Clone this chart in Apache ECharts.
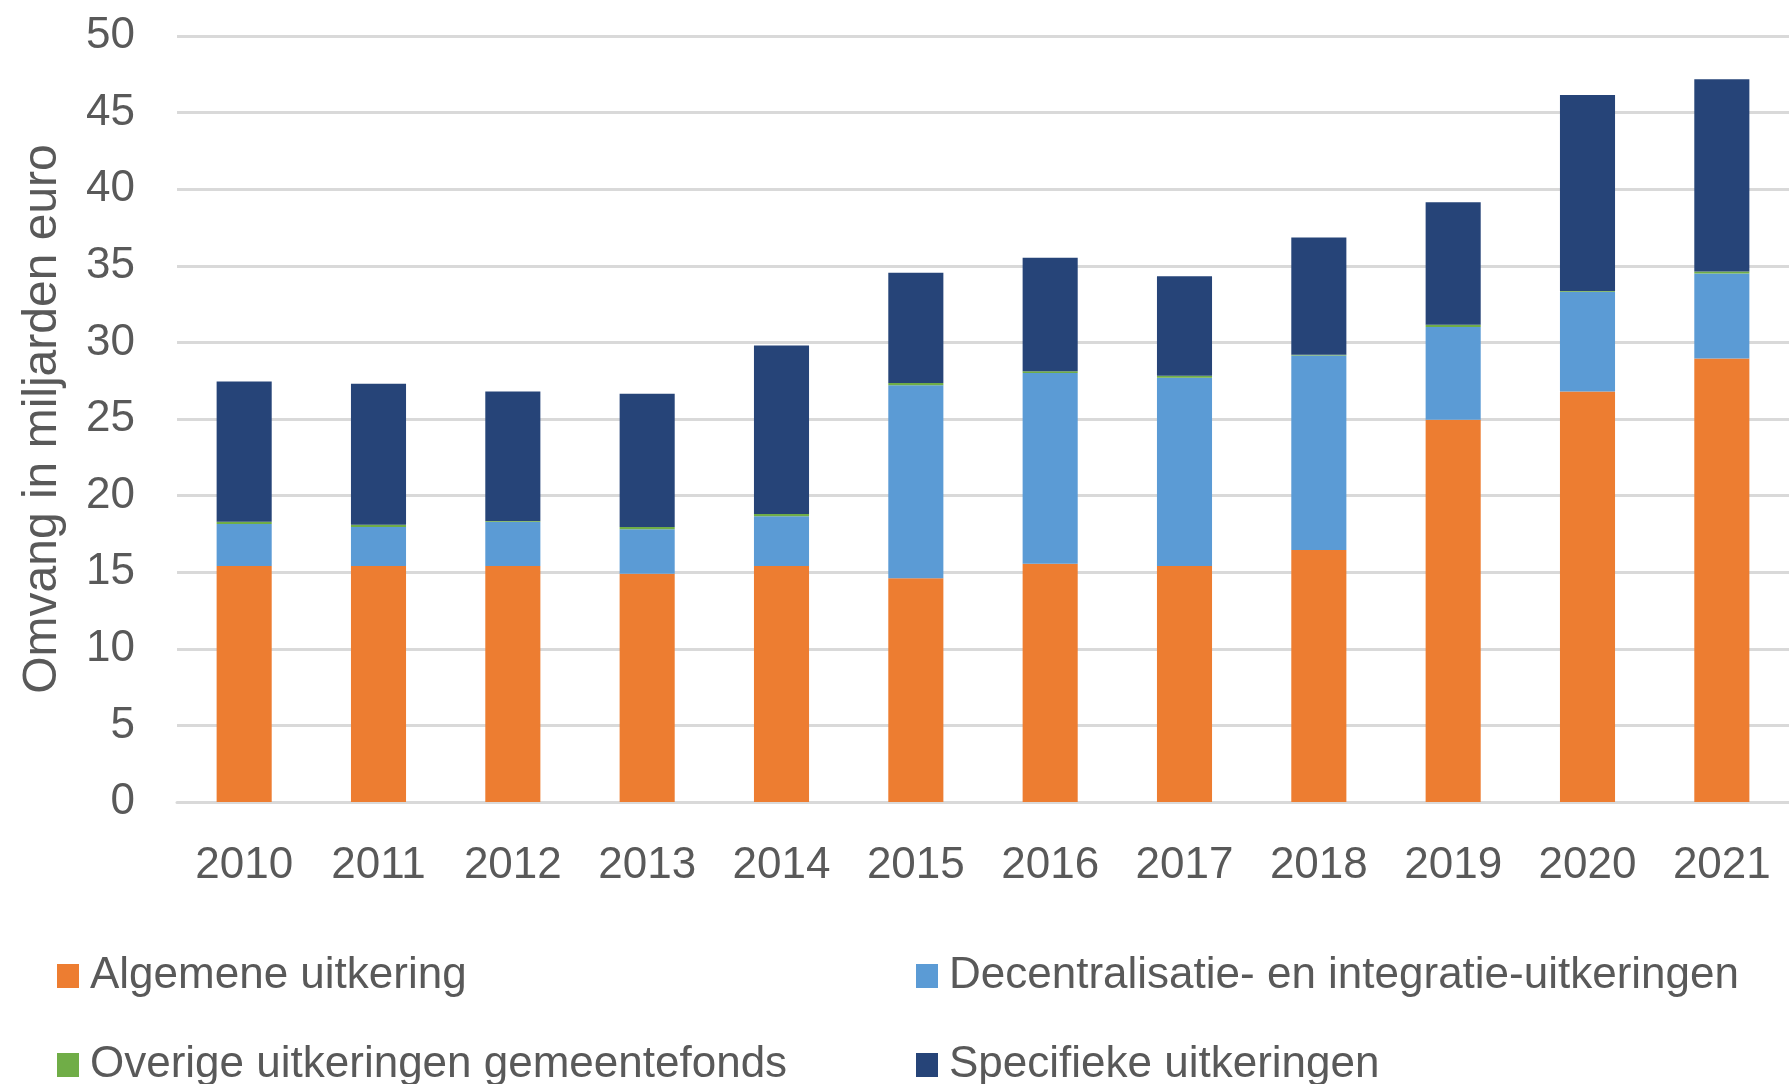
<!DOCTYPE html>
<html>
<head>
<meta charset="utf-8">
<script src="https://cdn.jsdelivr.net/npm/echarts@6/dist/echarts.min.js"></script>
<style>
html,body{margin:0;padding:0;background:#fff;}
#chart{width:1789px;height:1084px;}
</style>
</head>
<body>
<div id="chart"></div>
<script>
var categories = ['2010','2011','2012','2013','2014','2015','2016','2017','2018','2019','2020','2021'];
var algemeneUitkering = [15.4, 15.4, 15.4, 14.9, 15.4, 14.6, 15.55, 15.4, 16.45, 24.95, 26.8, 28.95];
var decentralisatieUitkeringen = [2.75, 2.55, 2.9, 2.9, 3.25, 12.6, 12.45, 12.3, 12.7, 6.05, 6.5, 5.55];
var overigeUitkeringen = [0.15, 0.15, 0.05, 0.15, 0.15, 0.15, 0.12, 0.12, 0.05, 0.15, 0.05, 0.12];
var specifiekeUitkeringen = [9.15, 9.2, 8.45, 8.7, 11.0, 7.2, 7.4, 6.5, 7.65, 8.0, 12.8, 12.55];
var yTicks = {min: 0, max: 50, interval: 5};
var seriesNames = ['Algemene uitkering','Decentralisatie- en integratie-uitkeringen','Overige uitkeringen gemeentefonds','Specifieke uitkeringen'];

var FONT = 'Liberation Sans';
var TXT = '#595959';
var chart = echarts.init(document.getElementById('chart'), null, {renderer: 'canvas'});

function bar(name, data, color) {
  return {
    name: name, type: 'bar', stack: 'total', data: data,
    barWidth: '41%',
    itemStyle: {color: color},
    emphasis: {disabled: true}
  };
}

var legendText = {color: TXT, fontFamily: FONT, fontSize: 44, lineHeight: 48, padding: [0, 0, 0, 6]};

function legend(items, left) {
  return {
    data: items,
    orient: 'vertical', left: left, top: 952, height: 200, padding: 0,
    itemWidth: 22, itemHeight: 24, itemGap: 41,
    icon: 'rect', textStyle: legendText
  };
}

chart.setOption({
  animation: false,
  backgroundColor: '#ffffff',
  grid: {left: 177, top: 36, width: 1623, bottom: 282, containLabel: false},
  legend: [
    legend([seriesNames[0], seriesNames[2]], 57),
    legend([seriesNames[1], seriesNames[3]], 916)
  ],
  xAxis: {
    type: 'category', data: categories,
    axisLine: {show: true, lineStyle: {color: '#d9d9d9', width: 3}},
    axisTick: {show: false},
    axisLabel: {color: TXT, fontFamily: FONT, fontSize: 44, margin: 42}
  },
  yAxis: {
    type: 'value', min: yTicks.min, max: yTicks.max, interval: yTicks.interval,
    name: 'Omvang in miljarden euro', nameLocation: 'middle', nameGap: 110,
    nameTextStyle: {color: TXT, fontFamily: FONT, fontSize: 48},
    axisLine: {show: false}, axisTick: {show: false},
    axisLabel: {color: TXT, fontFamily: FONT, fontSize: 44, margin: 42},
    splitLine: {lineStyle: {color: '#d9d9d9', width: 3}}
  },
  series: [
    bar(seriesNames[0], algemeneUitkering, '#ED7D31'),
    bar(seriesNames[1], decentralisatieUitkeringen, '#5B9BD5'),
    bar(seriesNames[2], overigeUitkeringen, '#70AD47'),
    bar(seriesNames[3], specifiekeUitkeringen, '#264478')
  ]
});
</script>
</body>
</html>
